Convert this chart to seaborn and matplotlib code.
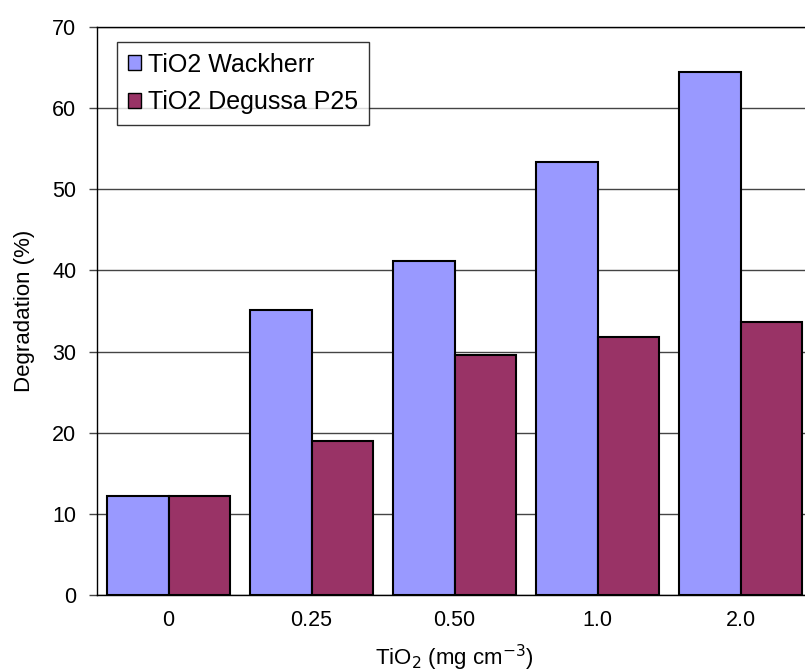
import matplotlib
matplotlib.use("Agg")
import matplotlib.pyplot as plt
import seaborn as sns
import pandas as pd

categories = ["0", "0.25", "0.50", "1.0", "2.0"]
wackherr = [12.2, 35.1, 41.2, 53.4, 64.5]
degussa = [12.2, 19.0, 29.6, 31.8, 33.7]
series_names = ["TiO2 Wackherr", "TiO2 Degussa P25"]
colors = ["#9999FF", "#993366"]

df = pd.DataFrame({
    "cat": categories * 2,
    "val": wackherr + degussa,
    "series": [series_names[0]] * len(categories) + [series_names[1]] * len(categories),
})

sns.set_style("white")
plt.rcParams["font.family"] = ["Liberation Sans", "DejaVu Sans"]
plt.rcParams["text.color"] = "black"
plt.rcParams["axes.labelcolor"] = "black"
plt.rcParams["xtick.color"] = "black"
plt.rcParams["ytick.color"] = "black"

fig = plt.figure(figsize=(8.05, 6.71), dpi=100)
ax = fig.add_axes([97 / 805, 76 / 671, 715 / 805, 568 / 671])

sns.barplot(data=df, x="cat", y="val", hue="series", palette=colors,
            width=0.86, gap=0, edgecolor="black", linewidth=1.5,
            saturation=1, ax=ax, zorder=3)

ax.set_ylim(0, 70)
ax.set_yticks(range(0, 71, 10))
ax.yaxis.grid(True, color="#444444", linewidth=1.0, zorder=0)
ax.set_axisbelow(True)
ax.tick_params(axis="y", length=6, width=1, color="#444444", labelcolor="black",
               direction="out", left=True, labelsize=15.5, pad=9)
ax.tick_params(axis="x", length=0, labelsize=15.5, labelcolor="black", pad=11)
for s in ["left", "top", "right", "bottom"]:
    ax.spines[s].set_color("black")
    ax.spines[s].set_linewidth(1.0)
ax.set_xlabel("TiO$_2$ (mg cm$^{-3}$)", fontsize=16, labelpad=8, color="black")
ax.set_ylabel("Degradation (%)", fontsize=16, labelpad=12, color="black")

leg = ax.legend(loc="upper left", bbox_to_anchor=(20 / 715, 1 - 15 / 568),
                fontsize=18, frameon=True, fancybox=False, edgecolor="black",
                handlelength=0.52, handleheight=0.52, handletextpad=0.3,
                borderpad=0.42, labelspacing=0.55, borderaxespad=0)
leg.get_frame().set_linewidth(1.0)
for t in leg.get_texts():
    t.set_color("black")
for h in leg.legend_handles:
    h.set_linewidth(1.0)

fig.savefig("out.png", dpi=100)
